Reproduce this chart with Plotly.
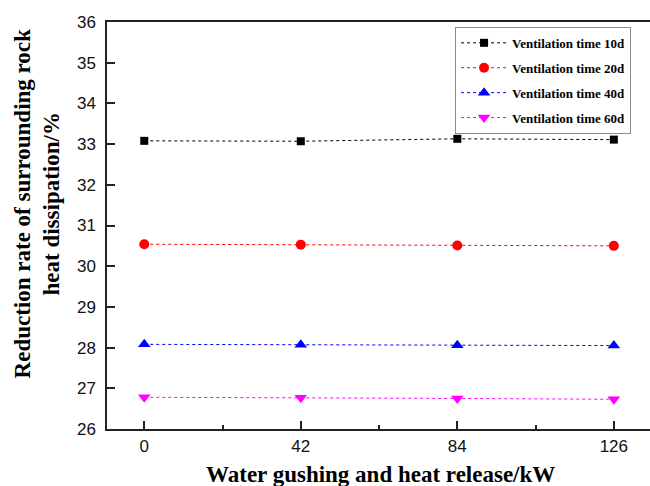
import plotly.graph_objects as go

# Water gushing heat release (kW)
heat_release = [0, 42, 84, 126]

# Reduction rate of surrounding rock heat dissipation (%) per ventilation time
vent_10d = [33.08, 33.07, 33.13, 33.11]
vent_20d = [30.54, 30.53, 30.51, 30.50]
vent_40d = [28.08, 28.07, 28.06, 28.05]
vent_60d = [26.78, 26.77, 26.75, 26.73]

series_names = ["Ventilation time 10d", "Ventilation time 20d",
                "Ventilation time 40d", "Ventilation time 60d"]
series_values = [vent_10d, vent_20d, vent_40d, vent_60d]

x_ticks = [0, 42, 84, 126]
x_minor = [21, 63, 105]
y_ticks = list(range(26, 37))

styles = [
    dict(color="#000000", symbol="square", size=8),
    dict(color="#FF0000", symbol="circle", size=10),
    dict(color="#0000FF", symbol="triangle-up", size=11),
    dict(color="#FF00FF", symbol="triangle-down", size=11),
]

SERIF = "Liberation Serif"
SANS = "Liberation Sans"

fig = go.Figure()
for i, (name, vals, st) in enumerate(zip(series_names, series_values, styles)):
    fig.add_trace(go.Scatter(
        x=heat_release, y=vals, name=f"<b>{name}</b>", mode="lines+markers",
        legendgroup=f"g{i}",
        line=dict(color=st["color"], width=1, dash="dot"),
        marker=dict(color=st["color"], symbol=st["symbol"], size=st["size"],
                    line=dict(width=0)),
    ))

axis_color = "#222222"

fig.update_layout(
    width=650, height=486,
    margin=dict(l=107, r=0, t=22, b=57),
    paper_bgcolor="white", plot_bgcolor="white",
    showlegend=True,
    legend=dict(
        x=0.641, y=0.988, xanchor="left", yanchor="top",
        bgcolor="white", bordercolor="#8c8c8c", borderwidth=1,
        font=dict(family=SERIF, size=13, color="black"),
        tracegroupgap=5, itemwidth=46,
    ),
    xaxis=dict(
        range=[-10, 135.7], tickvals=x_ticks, ticktext=[str(v) for v in x_ticks],
        showgrid=False, zeroline=False,
        showline=True, linecolor=axis_color, linewidth=1.5, mirror=True,
        ticks="inside", ticklen=8, tickwidth=1.5, tickcolor=axis_color,
        minor=dict(tickvals=x_minor, ticks="inside", ticklen=4,
                   tickwidth=1.5, tickcolor=axis_color),
        tickfont=dict(family=SANS, size=17, color="#111111"),
        ticklabelstandoff=1,
    ),
    yaxis=dict(
        range=[26, 36], tickvals=y_ticks, ticktext=[str(v) for v in y_ticks],
        showgrid=False, zeroline=False,
        showline=True, linecolor=axis_color, linewidth=1.5, mirror=False,
        ticks="inside", ticklen=8, tickwidth=1.5, tickcolor=axis_color,
        tickfont=dict(family=SANS, size=17, color="#111111"),
        ticklabelstandoff=6,
    ),
    annotations=[
        dict(text="<b>Reduction rate of surrounding rock<br>heat dissipation/%</b>",
             xref="paper", yref="paper", x=-0.128, y=0.553,
             xanchor="center", yanchor="middle", textangle=-90, showarrow=False,
             font=dict(family=SERIF, size=23, color="black")),
        dict(text="<b>Water gushing and heat release/kW</b>",
             xref="paper", yref="paper", x=0.503, y=-0.077,
             xanchor="center", yanchor="top", showarrow=False,
             font=dict(family=SERIF, size=23, color="black")),
    ],
)

fig.write_html("out.html")
